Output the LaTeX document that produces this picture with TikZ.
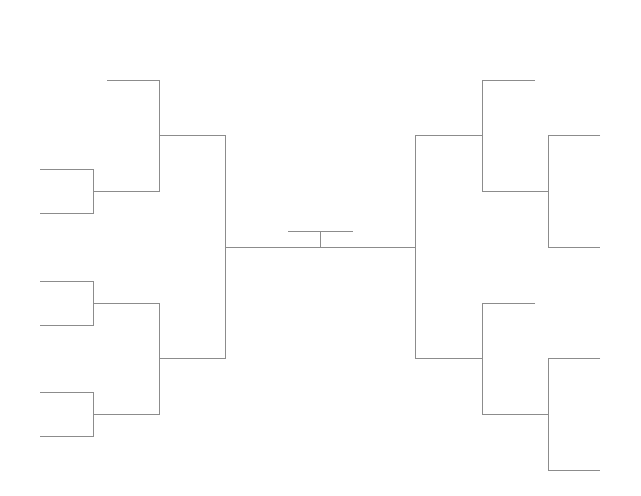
\documentclass[tikz,border=0pt]{standalone}
\begin{document}
\begin{tikzpicture}[x=0.75pt,y=-0.75pt,br/.style={draw=black!45,line width=0.7pt}]
\useasboundingbox (0,0) rectangle (641,495);
% left side
\draw[br] (107,80) -- (159,80) -- (159,191) -- (93,191);
\draw[br] (40,169) -- (93,169) -- (93,213) -- (40,213);
\draw[br] (159,135) -- (225,135) -- (225,358) -- (159,358);
\draw[br] (40,281) -- (93,281) -- (93,325) -- (40,325);
\draw[br] (40,392) -- (93,392) -- (93,436) -- (40,436);
\draw[br] (93,303) -- (159,303) -- (159,414) -- (93,414);
% centre
\draw[br] (225,247) -- (415,247);
\draw[br] (288,231) -- (353,231);
\draw[br] (320,231) -- (320,247);
% right side
\draw[br] (482,135) -- (415,135) -- (415,358) -- (482,358);
\draw[br] (535,80) -- (482,80) -- (482,191) -- (548,191);
\draw[br] (600,135) -- (548,135) -- (548,247) -- (600,247);
\draw[br] (535,303) -- (482,303) -- (482,414) -- (548,414);
\draw[br] (600,358) -- (548,358) -- (548,470) -- (600,470);
\end{tikzpicture}
\end{document}
